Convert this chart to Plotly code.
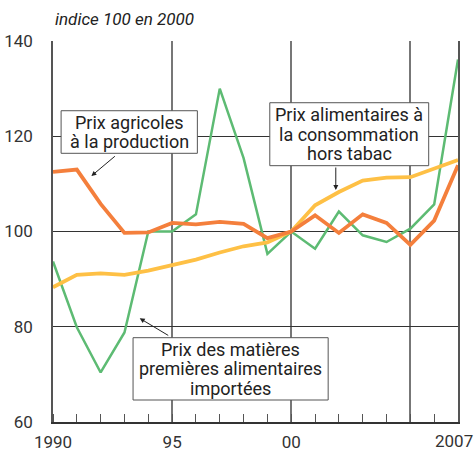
import plotly.graph_objects as go

years = list(range(1990, 2008))
agricoles = [112.5, 113.0, 105.8, 99.7, 99.8, 101.8, 101.5, 102.0, 101.6, 98.6,
             100.0, 103.4, 99.7, 103.6, 101.8, 97.2, 102.3, 113.9]
alimentaires = [88.3, 90.9, 91.2, 90.9, 91.8, 93.0, 94.1, 95.6, 96.9, 97.7,
                100.0, 105.5, 108.3, 110.7, 111.3, 111.4, 113.2, 115.0]
matieres = [93.7, 79.9, 70.4, 78.8, 100.0, 100.0, 103.6, 130.0, 115.4, 95.3,
            100.0, 96.4, 104.2, 99.2, 97.8, 100.6, 105.7, 136.1]

x_tickvals = [1990, 1995, 2000, 2005, 2007]
x_ticktext = ["1990", "95", "00", "", ""]
last_year_label = "2007"
y_tickvals = [60, 80, 100, 120, 140]

label_agri = ["Prix agricoles", "à la production"]
label_alim = ["Prix alimentaires à", "la consommation", "hors tabac"]
label_mat = ["Prix des matières", "premières alimentaires", "importées"]

GREEN = "#5dbb73"
YELLOW = "#fec045"
ORANGE = "#f47f3c"
TXT = "#222222"
FONT = "Roboto"

fig = go.Figure()
fig.add_trace(go.Scatter(x=years, y=matieres, mode="lines",
                         line=dict(color=GREEN, width=2.5)))
fig.add_trace(go.Scatter(x=years, y=alimentaires, mode="lines",
                         line=dict(color=YELLOW, width=3.8)))
fig.add_trace(go.Scatter(x=years, y=agricoles, mode="lines",
                         line=dict(color=ORANGE, width=3.8)))

# label boxes: (lines, x0, x1, y0, y1)
boxes = [
    (label_agri, 1990.34, 1996.06, 116.42, 125.36),
    (label_alim, 1999.10, 2005.77, 113.82, 127.04),
    (label_mat, 1993.36, 2001.55, 64.62, 77.70),
]

annotations = [
    dict(text="<i>indice 100 en 2000</i>", xref="paper", yref="paper",
         x=0, y=1, xanchor="left", yanchor="bottom", yshift=10,
         showarrow=False, font=dict(family=FONT, size=17, color=TXT)),
    # last x label sits flush with the right edge of the picture
    dict(text=last_year_label, xref="x", yref="paper", x=2007, y=0,
         xanchor="right", yanchor="top", xshift=17, yshift=-7,
         showarrow=False, font=dict(family=FONT, size=17, color="#333333")),
]
shapes = []
LEAD = 19.5
for lines, x0, x1, y0, y1 in boxes:
    shapes.append(dict(type="rect", xref="x", yref="y", x0=x0, x1=x1, y0=y0, y1=y1,
                       fillcolor="white", line=dict(color="#555555", width=1),
                       layer="above"))
    n = len(lines)
    for i, t in enumerate(lines):
        annotations.append(dict(text=t, xref="x", yref="y", x=(x0 + x1) / 2,
                                y=(y0 + y1) / 2, yshift=((n - 1) / 2 - i) * LEAD,
                                xanchor="center", yanchor="middle", showarrow=False,
                                font=dict(family=FONT, size=18, color=TXT)))

arrow = dict(text="", showarrow=True, arrowhead=2, arrowsize=1, arrowwidth=1,
             arrowcolor=TXT, xref="x", yref="y")
annotations += [
    dict(x=1991.61, y=111.65, ax=25, ay=-21, **arrow),
    dict(x=2001.87, y=108.71, ax=0, ay=-24, **arrow),
    dict(x=1993.64, y=81.77, ax=30, ay=18, **arrow),
]

fig.update_layout(
    width=476, height=452,
    margin=dict(l=53, r=18, t=41, b=30),
    paper_bgcolor="white", plot_bgcolor="white",
    showlegend=False,
    font=dict(family=FONT, color="#333333"),
    xaxis=dict(range=[1990, 2007], tickmode="array", tickvals=x_tickvals,
               ticktext=x_ticktext, showgrid=True, gridcolor="#777777",
               gridwidth=1.5, zeroline=False, showline=True, linecolor="#333333",
               linewidth=2, ticks="", ticklabelstandoff=4, automargin=False,
               tickfont=dict(size=17, color="#333333")),
    yaxis=dict(range=[60, 140], tickmode="array", tickvals=y_tickvals,
               showgrid=True, gridcolor="#333333", gridwidth=1, zeroline=False,
               showline=True, mirror=True, linecolor="#555555", linewidth=1.5,
               ticks="", ticklabelstandoff=15, automargin=False,
               tickfont=dict(size=17, color="#333333")),
    shapes=shapes,
    annotations=annotations,
)
fig.update_xaxes(minor=dict(tick0=1990, dtick=1, ticks="inside", ticklen=8,
                            tickcolor="#555555", tickwidth=1, showgrid=False))

# drop the page's default body margin so the figure fills the window
fig.write_html("out.html", config={"displayModeBar": False},
               post_script="document.body.style.margin='0';")
